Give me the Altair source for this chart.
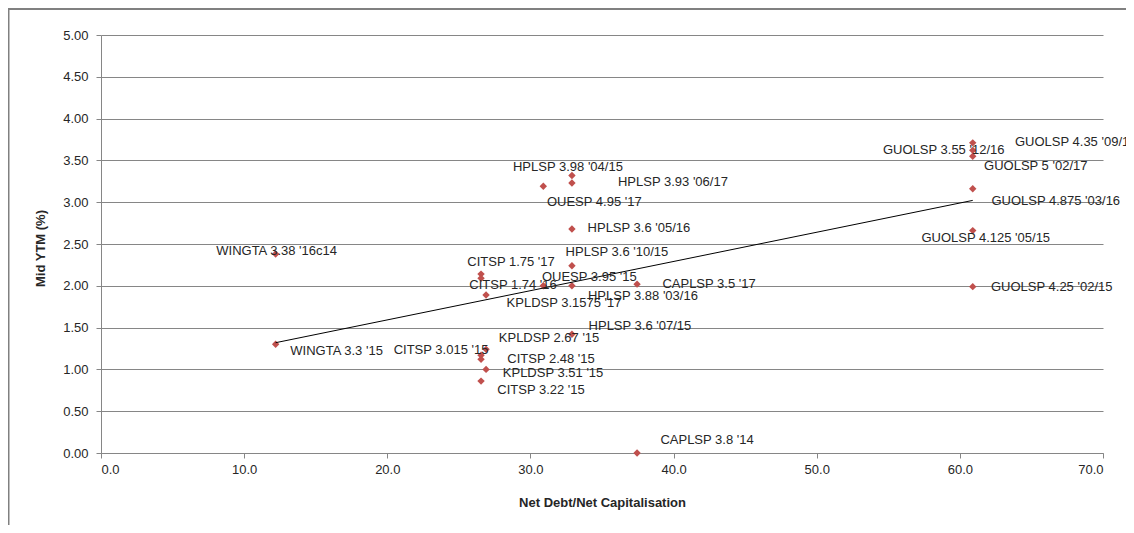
import altair as alt
import pandas as pd

# ---- data ----
labels = [
    "WINGTA 3.38 '16c14", "WINGTA 3.3 '15", "CAPLSP 3.8 '14", "CAPLSP 3.5 '17",
    "HPLSP 3.98 '04/15", "HPLSP 3.93 '06/17", "OUESP 4.95 '17", "HPLSP 3.6 '05/16",
    "HPLSP 3.6 '10/15", "CITSP 1.75 '17", "CITSP 1.74 '16", "KPLDSP 3.1575 '17",
    "OUESP 3.95 '15", "HPLSP 3.88 '03/16", "HPLSP 3.6 '07/15", "KPLDSP 2.67 '15",
    "CITSP 3.015 '15", "CITSP 2.48 '15", "KPLDSP 3.51 '15", "CITSP 3.22 '15",
    "GUOLSP 4.35 '09/17", "GUOLSP 3.55 '12/16", "GUOLSP 5 '02/17",
    "GUOLSP 4.875 '03/16", "GUOLSP 4.125 '05/15", "GUOLSP 4.25 '02/15",
]
net_debt_cap = [
    12.2, 12.2, 37.45, 37.45,
    32.9, 32.9, 30.9, 32.9,
    32.9, 26.55, 26.55, 26.9,
    30.9, 32.9, 32.9, 26.9,
    26.55, 26.55, 26.9, 26.55,
    60.9, 60.9, 60.9,
    60.9, 60.9, 60.9,
]
mid_ytm = [
    2.38, 1.30, 0.00, 2.02,
    3.32, 3.23, 3.19, 2.68,
    2.24, 2.14, 2.09, 1.89,
    2.00, 2.00, 1.42, 1.24,
    1.17, 1.12, 1.00, 0.86,
    3.71, 3.62, 3.55,
    3.16, 2.66, 1.99,
]
# data-label placement (pixel offsets of the label centre from its point)
label_dx = [1, 61, 70, 72, -4, 101, 51, 67, 45, 30, 32, 78, 46, 71, 68, 63,
            -40, 70, 67, 60, 103, -29, 63, 83, 13, 79]
label_dy = [-3, 7, -13, 0, -8, -1, 16, -1, -14, -12, 7, 8, -9, 10, -8, -11,
            -5, 0, 4, 9, -1, 0, 10, 12, 7, 0]

x_ticks = [0, 10, 20, 30, 40, 50, 60, 70]
y_ticks = [0, 0.5, 1, 1.5, 2, 2.5, 3, 3.5, 4, 4.5, 5]

df = pd.DataFrame({
    "idx": list(range(len(labels))),
    "label": labels,
    "x": net_debt_cap,
    "y": mid_ytm,
})

FONT = "Liberation Sans"
GRID = "#868686"
TXT = "#262626"

x_enc = alt.X(
    "x:Q",
    scale=alt.Scale(domain=[0, 70], nice=False, zero=False),
    axis=alt.Axis(
        values=x_ticks, format=".1f", grid=False,
        domainColor=GRID, tickColor=GRID, tickSize=5, labelPadding=5,
        labelFont=FONT, labelFontSize=13, labelColor=TXT,
        title="Net Debt/Net Capitalisation", titleFont=FONT, titleFontSize=13,
        titleFontWeight="bold", titleColor=TXT, titleY=49, titleBaseline="middle",
    ),
)
y_enc = alt.Y(
    "y:Q",
    scale=alt.Scale(domain=[0, 5], nice=False, zero=False),
    axis=alt.Axis(
        values=y_ticks, format=".2f", grid=True, gridColor=GRID, gridWidth=1,
        domainColor=GRID, tickColor=GRID, tickSize=5, labelPadding=8,
        labelFont=FONT, labelFontSize=13, labelColor=TXT,
        title="Mid YTM (%)", titleFont=FONT, titleFontSize=13,
        titleFontWeight="bold", titleColor=TXT, titleX=-61, titleY=213,
        titleAlign="center", titleBaseline="middle",
    ),
)

base = alt.Chart(df)

trend = base.transform_regression("x", "y").mark_line(
    color="#000000", strokeWidth=1
).encode(x=alt.X("x:Q"), y=alt.Y("y:Q"))

points = base.mark_point(
    shape="diamond", filled=True, color="#C0504D", size=55, opacity=1
).encode(x=x_enc, y=y_enc)

text_layers = []
for i in range(len(labels)):
    text_layers.append(
        base.transform_filter(alt.datum.idx == i).mark_text(
            font=FONT, fontSize=13, color=TXT, align="center", baseline="middle",
            dx=label_dx[i], dy=label_dy[i],
        ).encode(x=alt.X("x:Q"), y=alt.Y("y:Q"), text="label:N")
    )

one = alt.Data(values=[{"t": "Figure 6: Yield to Gearing"}])

frame_top = alt.Chart(one).mark_rule(color="#808080", strokeWidth=2).encode(
    x=alt.value(-93), x2=alt.value(1025), y=alt.value(-26)
)
frame_left = alt.Chart(one).mark_rule(color="#808080", strokeWidth=1.5).encode(
    x=alt.value(-92.25), y=alt.value(-27), y2=alt.value(490)
)
fig_title = alt.Chart(one).mark_text(
    font="Liberation Sans", fontSize=16, fontWeight="bold", fontStyle="italic",
    color="#000000", align="left", baseline="alphabetic",
).encode(x=alt.value(-101), y=alt.value(-30.5), text="t:N")

chart = alt.layer(
    frame_top, frame_left, fig_title, points, trend, *text_layers
).properties(
    width=1002,
    height=418,
    autosize=alt.AutoSizeParams(type="none"),
    padding={"left": 93, "top": 27, "right": 23, "bottom": 72},
    background="#ffffff",
).configure_view(stroke=None)

chart.save("out.html", embed_options={"renderer": "svg", "actions": False})
